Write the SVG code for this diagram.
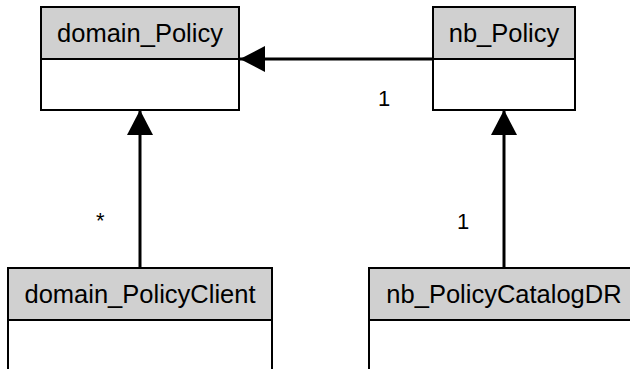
<svg xmlns="http://www.w3.org/2000/svg" width="630" height="369" viewBox="0 0 630 369">
<style>
.hdr{fill:#d0d0d0;stroke:#000;stroke-width:2}
.body{fill:#fff;stroke:#000;stroke-width:2}
.name{font-family:"Liberation Sans",Arial,sans-serif;font-size:25.5px;fill:#000;text-anchor:middle}
.lbl{font-family:"Liberation Sans",Arial,sans-serif;font-size:22px;fill:#000}
.conn{stroke:#000;stroke-width:3;fill:none}
</style>
<defs>
<marker id="tri" markerUnits="userSpaceOnUse" markerWidth="26" markerHeight="27" refX="25" refY="13" orient="auto" viewBox="0 0 26 27">
<path d="M0,0 L25,13 L0,26 Z" fill="#000"/>
</marker>
</defs>
<rect width="630" height="369" fill="#fff"/>
<g id="connectors">
<line class="conn" x1="433" y1="59" x2="240" y2="59" marker-end="url(#tri)"/>
<line class="conn" x1="140" y1="268" x2="140" y2="110" marker-end="url(#tri)"/>
<line class="conn" x1="504" y1="268" x2="504" y2="110" marker-end="url(#tri)"/>
<text class="lbl" x="378" y="106">1</text>
<text class="lbl" x="96" y="228">*</text>
<text class="lbl" x="457" y="229">1</text>
</g>
<g id="domain_Policy">
<rect class="body" x="41" y="59" width="198" height="51"/>
<rect class="hdr" x="41" y="7" width="198" height="52"/>
<text class="name" x="140" y="42">domain_Policy</text>
</g>
<g id="nb_Policy">
<rect class="body" x="433" y="59" width="142" height="51"/>
<rect class="hdr" x="433" y="7" width="142" height="52"/>
<text class="name" x="504" y="42">nb_Policy</text>
</g>
<g id="domain_PolicyClient">
<rect class="body" x="8" y="320" width="264" height="70"/>
<rect class="hdr" x="8" y="268" width="264" height="52"/>
<text class="name" x="140" y="303">domain_PolicyClient</text>
</g>
<g id="nb_PolicyCatalogDR">
<rect class="body" x="369" y="320" width="270" height="70"/>
<rect class="hdr" x="369" y="268" width="270" height="52"/>
<text class="name" x="504" y="303">nb_PolicyCatalogDR</text>
</g>
</svg>
